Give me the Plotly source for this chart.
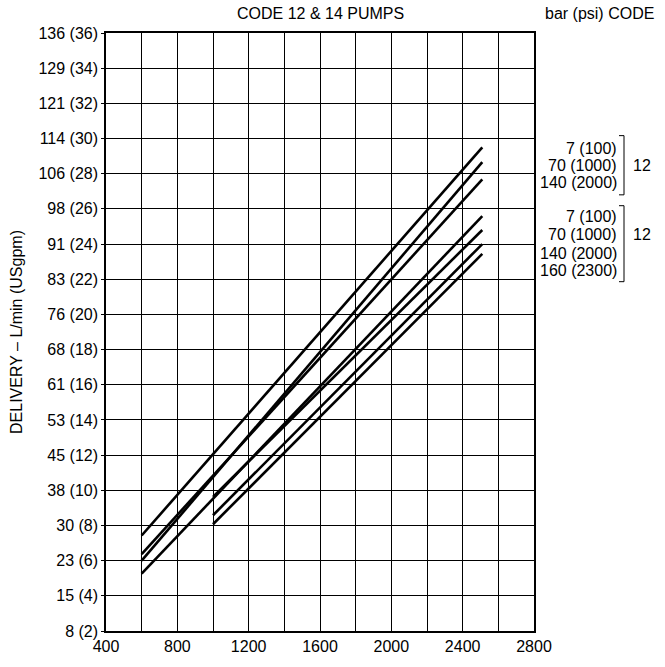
import plotly.graph_objects as go

# speed (rpm) where each line starts / ends
start_rpm = [600, 600, 600, 600, 1000, 1000, 1000]
end_rpm = [2510, 2510, 2510, 2510, 2510, 2510, 2510]
# delivery in USgpm at start / end
start_gpm = [7.43, 6.0, 6.37, 5.26, 9.63, 8.58, 8.07]
end_gpm = [29.5, 28.66, 27.68, 25.59, 24.8, 24.0, 23.44]

y_vals = list(range(2, 38, 2))
y_text = ['8 (2)', '15 (4)', '23 (6)', '30 (8)', '38 (10)', '45 (12)', '53 (14)',
          '61 (16)', '68 (18)', '76 (20)', '83 (22)', '91 (24)', '98 (26)',
          '106 (28)', '114 (30)', '121 (32)', '129 (34)', '136 (36)']
x_vals = list(range(400, 2801, 200))
x_text = [str(v) if v % 400 == 0 else '' for v in x_vals]

group1 = ['7 (100)', '70 (1000)', '140 (2000)']
group2 = ['7 (100)', '70 (1000)', '140 (2000)', '160 (2300)']
group_codes = ['12', '12']

FONT = 'Liberation Sans, Arial, sans-serif'
FS = 16
W, H = 665, 667
L, R, T, B = 106, 534, 33, 639


def px(x):
    return (x - L) / (R - L)


def py(y):
    return (B - y) / (B - T)


fig = go.Figure()
for x0, x1, y0, y1 in zip(start_rpm, end_rpm, start_gpm, end_gpm):
    fig.add_trace(go.Scatter(x=[x0, x1], y=[y0, y1], mode='lines',
                             line=dict(color='black', width=2.6),
                             showlegend=False, hoverinfo='skip'))

fig.update_xaxes(range=[400, 2800], tickvals=x_vals, ticktext=x_text,
                 showgrid=True, gridcolor='black', gridwidth=1.2,
                 showline=True, linecolor='black', linewidth=1.5, mirror=True,
                 zeroline=False, ticks='', tickfont=dict(size=FS, color='black'))
fig.update_yaxes(range=[2, 36], tickvals=y_vals, ticktext=y_text,
                 showgrid=True, gridcolor='black', gridwidth=1.2,
                 showline=True, linecolor='black', linewidth=1.5, mirror=True,
                 zeroline=False, ticks='outside', ticklen=3, tickcolor='black',
                 tickfont=dict(size=FS, color='black'),
                 title=dict(text='DELIVERY – L/min (USgpm)', standoff=12,
                            font=dict(size=FS, color='black')))

ann = []
ann.append(dict(text='CODE 12 & 14 PUMPS', x=px(320), y=py(13), xref='paper',
                yref='paper', showarrow=False, xanchor='center', yanchor='middle'))
ann.append(dict(text='bar (psi) CODE', x=px(543), y=py(13), xref='paper',
                yref='paper', showarrow=False, xanchor='left', yanchor='middle'))

shapes = []
groups = [(group1, [150, 167, 184], (137, 197), 167),
          (group2, [219, 237, 256, 274], (208, 285), 237)]
for (labels, ys, (top, bot), yc), code in zip(groups, group_codes):
    for lab, yy in zip(labels, ys):
        ann.append(dict(text=lab, x=px(619), y=py(yy), xref='paper', yref='paper',
                        showarrow=False, xanchor='right', yanchor='middle'))
    ann.append(dict(text=code, x=px(631), y=py(yc), xref='paper', yref='paper',
                    showarrow=False, xanchor='left', yanchor='middle'))
    for seg in [(624, top, 624, bot), (619, top, 624, top), (619, bot, 624, bot)]:
        shapes.append(dict(type='line', xref='paper', yref='paper',
                           x0=px(seg[0]), y0=py(seg[1]), x1=px(seg[2]), y1=py(seg[3]),
                           line=dict(color='black', width=1)))

fig.update_layout(width=W, height=H, margin=dict(l=L, r=W - R, t=T, b=H - B),
                  plot_bgcolor='white', paper_bgcolor='white',
                  font=dict(family=FONT, size=FS, color='black'),
                  annotations=ann, shapes=shapes)

# drop the default body margin so the figure fills the window exactly
fig.write_html('out.html', config={'displayModeBar': False},
               post_script="document.body.style.margin='0';"
                           "document.body.style.overflow='hidden';")
